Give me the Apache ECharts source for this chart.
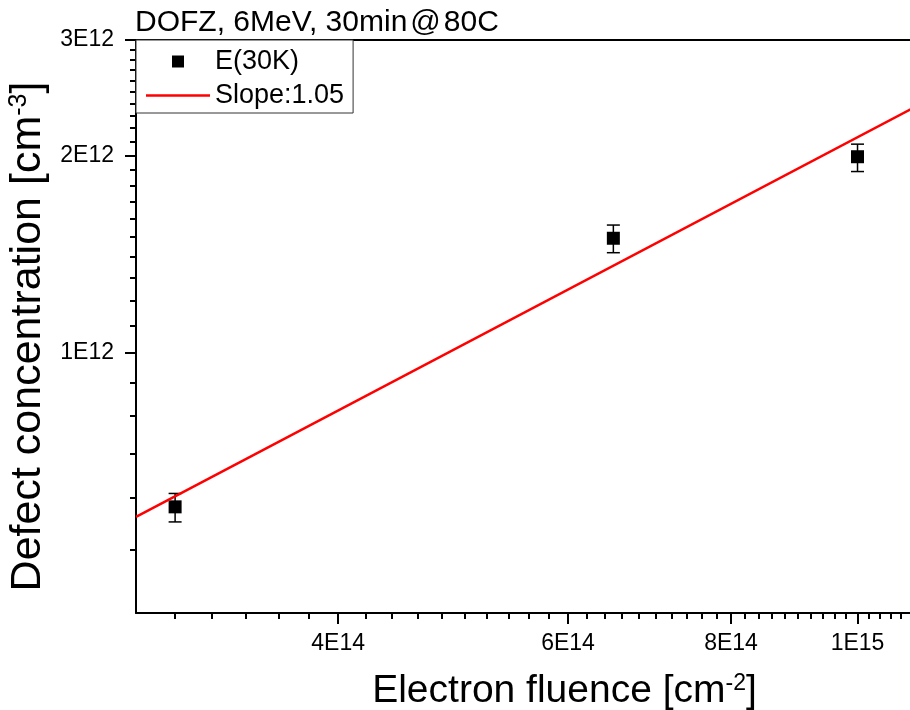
<!DOCTYPE html>
<html><head><meta charset="utf-8">
<script src="https://cdn.jsdelivr.net/npm/echarts@6/dist/echarts.min.js"></script>
<style>html,body{margin:0;padding:0;background:#fff}#c{width:910px;height:710px}</style>
</head><body><div id="c"></div>
<script>
// ---- data ----
const fluence = [3.0e14, 6.5e14, 1.0e15];
const concentration = [5.81e11, 1.494e12, 1.99e12];
const errorLow = [5.51e11, 1.42e12, 1.889e12];
const errorHigh = [6.09e11, 1.565e12, 2.08e12];
const fitX = [2.8e14, 1.12e15];
const fitY = [5.61e11, 2.40e12];
const xMajorTicks = [4e14, 6e14, 8e14, 1e15];
const xTickLabels = ['4E14', '6E14', '8E14', '1E15'];
const xMinorTicks = [3.0e14, 3.2e14, 3.4e14, 3.6e14, 3.8e14,
  4.2e14, 4.4e14, 4.6e14, 4.8e14, 5.0e14, 5.2e14, 5.4e14, 5.6e14, 5.8e14,
  6.2e14, 6.4e14, 6.6e14, 6.8e14, 7.0e14, 7.2e14, 7.4e14, 7.6e14, 7.8e14,
  8.2e14, 8.4e14, 8.6e14, 8.8e14, 9.0e14, 9.2e14, 9.4e14, 9.6e14, 9.8e14,
  1.02e15, 1.04e15, 1.06e15, 1.08e15];
const yMajorTicks = [1e12, 2e12, 3e12];
const yTickLabels = ['1E12', '2E12', '3E12'];
const yMinorTicks = [5e11, 6e11, 7e11, 8e11, 9e11,
  1.1e12, 1.2e12, 1.3e12, 1.4e12, 1.5e12, 1.6e12, 1.7e12, 1.8e12, 1.9e12,
  2.1e12, 2.2e12, 2.3e12, 2.4e12, 2.5e12, 2.6e12, 2.7e12, 2.8e12, 2.9e12];
const seriesNames = ['E(30K)', 'Slope:1.05'];
const titleParts = ['DOFZ, 6MeV, 30min', '@', '80C'];

const FONT = "'Liberation Sans', Arial, sans-serif";
const X_MIN = 2.8e14, X_MAX = 1.27e15, Y_MIN = 4e11, Y_MAX = 3e12;

function lookup(ticks, labels) {
  return function (v) {
    for (let i = 0; i < ticks.length; i++) {
      if (Math.abs(v - ticks[i]) / ticks[i] < 1e-6) return labels[i];
    }
    return '';
  };
}

const chart = echarts.init(document.getElementById('c'), null, {renderer: 'canvas'});
const axisLineStyle = {color: '#000', width: 2};
const tickStyle = {color: '#000', width: 2};
const option = {
  animation: false,
  backgroundColor: '#fff',
  title: {
    text: '{t|' + titleParts[0] + '}{at|' + titleParts[1] + '}{t|' + titleParts[2] + '}',
    left: 135, top: 8, padding: 0,
    textStyle: {
      fontFamily: FONT, fontSize: 30, fontWeight: 'normal', color: '#000',
      rich: {
        t: {fontFamily: FONT, fontSize: 30, color: '#000'},
        at: {fontFamily: FONT, fontSize: 30, color: '#000', padding: [0, 3, 0, 3]}
      }
    }
  },
  grid: {left: 136, top: 40, width: 857, height: 573, containLabel: false, outerBoundsMode: 'none'},
  legend: {
    left: 136, top: 40, orient: 'vertical',
    data: [
      {name: seriesNames[0], icon: 'path://M0,0H1V1H0Z'},
      {name: seriesNames[1], icon: 'path://M0,0H64V2.5H0Z'}
    ],
    itemWidth: 64, itemHeight: 12, itemGap: 7,
    padding: [8, 9, 4, 10],
    symbolKeepAspect: true,
    borderColor: '#333', borderWidth: 1, backgroundColor: '#fff', borderRadius: 0,
    textStyle: {fontFamily: FONT, fontSize: 27, color: '#000'},
    selectedMode: false, z: 10
  },
  xAxis: [
    {
      type: 'log', logBase: 10, min: X_MIN, max: X_MAX, position: 'bottom',
      axisLine: {lineStyle: axisLineStyle},
      axisTick: {customValues: xMajorTicks, length: 11, lineStyle: tickStyle},
      axisLabel: {customValues: xMajorTicks, formatter: lookup(xMajorTicks, xTickLabels),
        fontFamily: FONT, fontSize: 23, color: '#000', margin: 19},
      splitLine: {show: false},
      name: '{a|Electron fluence [cm}{s|-2}{a|]}',
      nameLocation: 'middle', nameGap: 59,
      nameTextStyle: {rich: {
        a: {fontFamily: FONT, fontSize: 39, color: '#000'},
        s: {fontFamily: FONT, fontSize: 23, color: '#000', verticalAlign: 'top'}
      }}
    },
    {
      type: 'log', logBase: 10, min: X_MIN, max: X_MAX, position: 'bottom',
      axisLine: {show: false},
      axisTick: {customValues: xMinorTicks, length: 6, lineStyle: tickStyle},
      axisLabel: {show: false}, splitLine: {show: false}
    },
    {
      type: 'log', logBase: 10, min: X_MIN, max: X_MAX, position: 'top',
      axisLine: {lineStyle: axisLineStyle},
      axisTick: {show: false}, axisLabel: {show: false}, splitLine: {show: false}
    }
  ],
  yAxis: [
    {
      type: 'log', logBase: 10, min: Y_MIN, max: Y_MAX, position: 'left',
      axisLine: {lineStyle: axisLineStyle},
      axisTick: {customValues: yMajorTicks, length: 11, lineStyle: tickStyle},
      axisLabel: {customValues: yMajorTicks, formatter: lookup(yMajorTicks, yTickLabels),
        fontFamily: FONT, fontSize: 23, color: '#000', margin: 22},
      splitLine: {show: false},
      name: '{a|Defect concentration [cm}{s|-3}{a|]}',
      nameLocation: 'middle', nameGap: 79,
      nameTextStyle: {padding: [0, 20, 0, 0], rich: {
        a: {fontFamily: FONT, fontSize: 43, color: '#000'},
        s: {fontFamily: FONT, fontSize: 25, color: '#000', verticalAlign: 'top'}
      }}
    },
    {
      type: 'log', logBase: 10, min: Y_MIN, max: Y_MAX, position: 'left',
      axisLine: {show: false},
      axisTick: {customValues: yMinorTicks, length: 6, lineStyle: tickStyle},
      axisLabel: {show: false}, splitLine: {show: false}
    },
    {
      type: 'log', logBase: 10, min: Y_MIN, max: Y_MAX, position: 'right',
      axisLine: {lineStyle: axisLineStyle},
      axisTick: {show: false}, axisLabel: {show: false}, splitLine: {show: false}
    }
  ],
  series: [
    {
      type: 'custom', name: 'errorbars', xAxisIndex: 0, yAxisIndex: 0, silent: true, z: 2,
      data: fluence.map((x, i) => [x, errorLow[i], errorHigh[i]]),
      encode: {x: 0, y: [1, 2]},
      renderItem: function (params, api) {
        const x = api.value(0);
        const lo = api.coord([x, api.value(1)]);
        const hi = api.coord([x, api.value(2)]);
        const w = 6.5;
        const style = {stroke: '#000', lineWidth: 1.5, fill: null};
        return {type: 'group', children: [
          {type: 'line', shape: {x1: lo[0], y1: lo[1], x2: hi[0], y2: hi[1]}, style: style},
          {type: 'line', shape: {x1: hi[0] - w, y1: hi[1], x2: hi[0] + w, y2: hi[1]}, style: style},
          {type: 'line', shape: {x1: lo[0] - w, y1: lo[1], x2: lo[0] + w, y2: lo[1]}, style: style}
        ]};
      }
    },
    {
      type: 'scatter', name: seriesNames[0], xAxisIndex: 0, yAxisIndex: 0, z: 3,
      symbol: 'rect', symbolSize: 13,
      itemStyle: {color: '#000', opacity: 1},
      data: fluence.map((x, i) => [x, concentration[i]])
    },
    {
      type: 'line', name: seriesNames[1], xAxisIndex: 0, yAxisIndex: 0, z: 4,
      symbol: 'none', showSymbol: false,
      lineStyle: {color: '#ff0000', width: 2.5}, itemStyle: {color: '#ff0000'},
      data: fitX.map((x, i) => [x, fitY[i]])
    }
  ]
};
chart.setOption(option);
</script></body></html>
